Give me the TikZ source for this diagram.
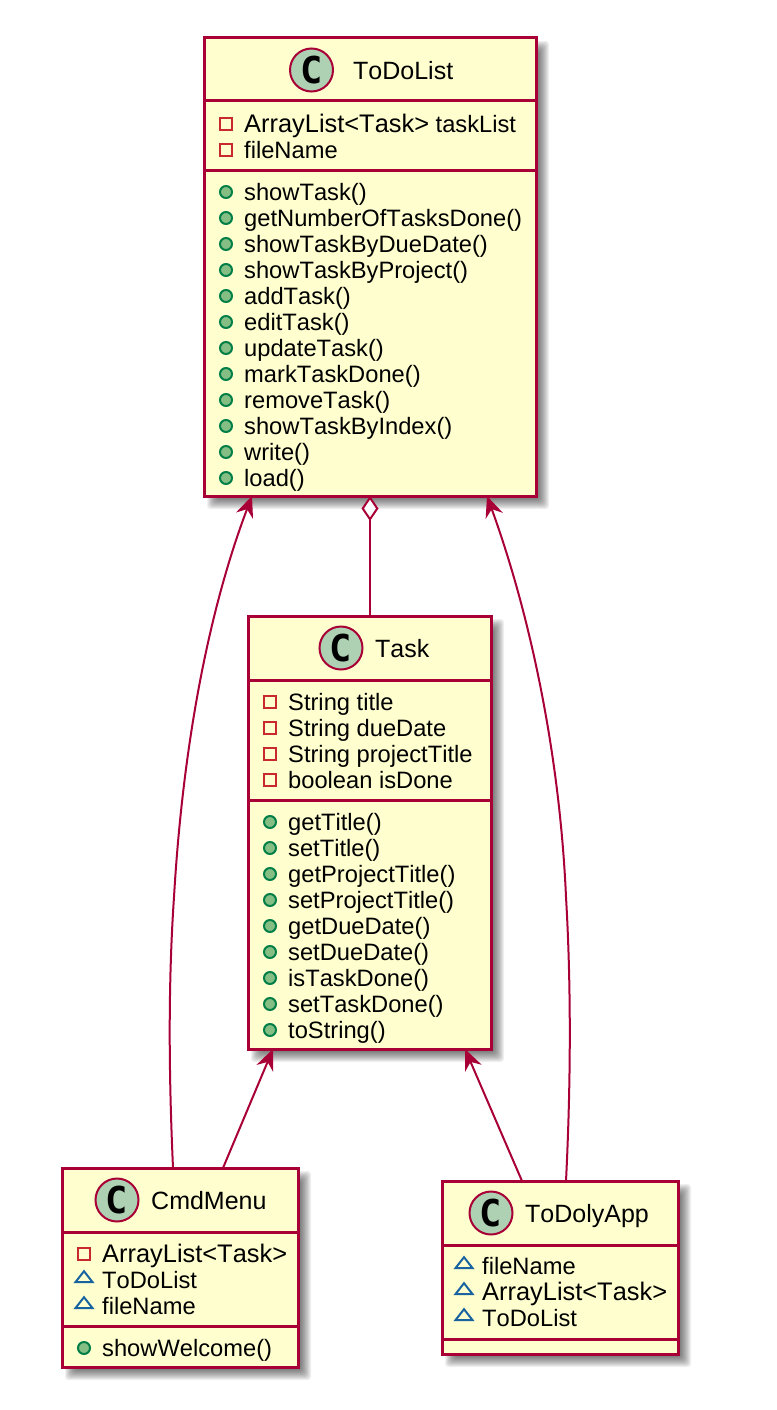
\documentclass[tikz,border=0pt]{standalone}
\usepackage{fontspec}
\setmainfont[Kerning=Off]{Liberation Sans}
\newfontfamily\spotfont{DejaVu Sans Mono}
\usepackage{xcolor}
\usetikzlibrary{arrows.meta,shapes.geometric,positioning,calc}
\definecolor{umlline}{HTML}{A80036}
\definecolor{umlfill}{HTML}{FEFECE}
\definecolor{umlspot}{HTML}{ADD1B2}
\definecolor{umlpriv}{HTML}{C82930}
\definecolor{umlpub}{HTML}{038048}
\definecolor{umlpubfill}{HTML}{84BE84}
\definecolor{umlpkg}{HTML}{1963A0}
\tikzset{
  classbox/.style={draw=umlline,fill=umlfill,line width=3pt,inner sep=0pt,outer sep=0pt},
  sepline/.style={draw=umlline,line width=3pt},
  spot/.style={circle,draw=umlline,fill=umlspot,line width=2pt,minimum size=43pt,inner sep=0pt,font=\fontsize{37}{37}\selectfont\spotfont\bfseries},
  title/.style={anchor=base west,inner sep=0pt,font=\fontsize{25}{30}\selectfont},
  member/.style={anchor=base west,inner sep=0pt,font=\fontsize{23.7}{26}\selectfont},
  priv/.style={rectangle,draw=umlpriv,line width=2pt,minimum size=12pt,inner sep=0pt},
  pub/.style={circle,draw=umlpub,fill=umlpubfill,line width=2pt,minimum size=12pt,inner sep=0pt},
  pkg/.style={isosceles triangle,isosceles triangle apex angle=76,shape border rotate=90,draw=umlpkg,line width=2pt,minimum height=11pt,inner sep=0pt},
  link/.style={draw=umlline,line width=2pt},
  tip/.style={-{Stealth[length=21pt,width=18pt,inset=7pt]}},
  aggr/.style={{Diamond[length=25pt,width=17pt,fill=white]}-}
}
\newcommand{\boxshadow}[4]{%
  \foreach \s in {5,4,...,-6}
    \fill[black,opacity=0.06,rounded corners=3pt] (#1+8-\s,#2+8-\s) rectangle (#3+8+\s,#4+8+\s);
}
\newcommand{\arraytask}{{\fontsize{25.4}{26}\selectfont ArrayList<Task>}}

\begin{document}
\begin{tikzpicture}[x=1pt,y=-1pt]
    \useasboundingbox (0,0) rectangle (776,1410);
    % shadows first
    \boxshadow{204}{38}{536}{496}
    \boxshadow{248}{616}{491}{1049}
    \boxshadow{62}{1168}{298}{1367}
    \boxshadow{442}{1181}{678}{1354}

    % ToDoList
    \node[classbox,minimum width=332pt,minimum height=458pt] (todolist) at (370,267) {};
    \draw[sepline] (todolist.west |- 0,101) -- (todolist.east |- 0,101);
    \draw[sepline] (todolist.west |- 0,170) -- (todolist.east |- 0,170);
    \node[spot] (todospot) at (311.5,70) {C};
    \node[title] (todoname) at (353,80) {ToDoList};
    \foreach \t [count=\i from 0] in {\arraytask{} taskList,fileName}{
      \node[priv] (todoicon\i) at (226,{124+26*\i}) {};
      \node[member] (todoattr\i) at (244,{132+26*\i}) {\t};
    }
    \foreach \t [count=\i from 0] in {showTask(),getNumberOfTasksDone(),showTaskByDueDate(),showTaskByProject(),addTask(),editTask(),updateTask(),markTaskDone(),removeTask(),showTaskByIndex(),write(),load()}{
      \node[pub] (todopub\i) at (226,{192+26*\i}) {};
      \node[member] (todoop\i) at (244,{200+26*\i}) {\t};
    }

    % Task
    \node[classbox,minimum width=243pt,minimum height=433pt] (task) at (369.5,832.5) {};
    \draw[sepline] (task.west |- 0,680) -- (task.east |- 0,680);
    \draw[sepline] (task.west |- 0,800) -- (task.east |- 0,800);
    \node[spot] (taskspot) at (341,648) {C};
    \node[title] (taskname) at (375,657) {Task};
    \foreach \t [count=\i from 0] in {String title,String dueDate,String projectTitle,boolean isDone}{
      \node[priv] (taskicon\i) at (270,{702+26*\i}) {};
      \node[member] (taskattr\i) at (288,{710+26*\i}) {\t};
    }
    \foreach \t [count=\i from 0] in {getTitle(),setTitle(),getProjectTitle(),setProjectTitle(),getDueDate(),setDueDate(),isTaskDone(),setTaskDone(),toString()}{
      \node[pub] (taskpub\i) at (270,{822+26*\i}) {};
      \node[member] (taskop\i) at (288,{830+26*\i}) {\t};
    }

    % CmdMenu
    \node[classbox,minimum width=236pt,minimum height=199pt] (cmdmenu) at (180,1267.5) {};
    \draw[sepline] (cmdmenu.west |- 0,1232) -- (cmdmenu.east |- 0,1232);
    \draw[sepline] (cmdmenu.west |- 0,1326) -- (cmdmenu.east |- 0,1326);
    \node[spot] (cmdspot) at (117,1200) {C};
    \node[title] (cmdname) at (151,1209) {CmdMenu};
    \node[priv] (cmdicon0) at (84,1254) {};
    \node[member] (cmdattr0) at (102,1262) {\arraytask};
    \node[pkg] (cmdicon1) at (84,1278) {};
    \node[member] (cmdattr1) at (102,1288) {ToDoList};
    \node[pkg] (cmdicon2) at (84,1304) {};
    \node[member] (cmdattr2) at (102,1314) {fileName};
    \node[pub] (cmdpub0) at (84,1348) {};
    \node[member] (cmdop0) at (102,1356) {showWelcome()};

    % ToDolyApp
    \node[classbox,minimum width=236pt,minimum height=173pt] (todolyapp) at (560,1267.5) {};
    \draw[sepline] (todolyapp.west |- 0,1245) -- (todolyapp.east |- 0,1245);
    \draw[sepline] (todolyapp.west |- 0,1339) -- (todolyapp.east |- 0,1339);
    \node[spot] (appspot) at (491,1213) {C};
    \node[title] (appname) at (525,1222) {ToDolyApp};
    \foreach \t [count=\i from 0] in {fileName,\arraytask,ToDoList}{
      \node[pkg] (appicon\i) at (464,{1264+26*\i}) {};
      \node[member] (appattr\i) at (482,{1274+26*\i}) {\t};
    }

    % links
    \draw[link,aggr] (todolist.south) -- (todolist.south |- task.north);
    \draw[link,tip] ([xshift=43pt]cmdmenu.north) -- ([xshift=-96.5pt]task.south);
    \draw[link,tip] ([xshift=-38pt]todolyapp.north) -- ([xshift=95.5pt]task.south);
    \draw[link,tip] ([xshift=-7pt]cmdmenu.north) .. controls (170,1100) and (167,1000) .. (174,897) .. controls (182,760) and (205,620) .. ([xshift=-118pt]todolist.south);
    \draw[link,tip] ([xshift=6pt]todolyapp.north) .. controls (570,1100) and (572,1000) .. (566,897) .. controls (560,760) and (532,620) .. ([xshift=117pt]todolist.south);
\end{tikzpicture}
\end{document}
